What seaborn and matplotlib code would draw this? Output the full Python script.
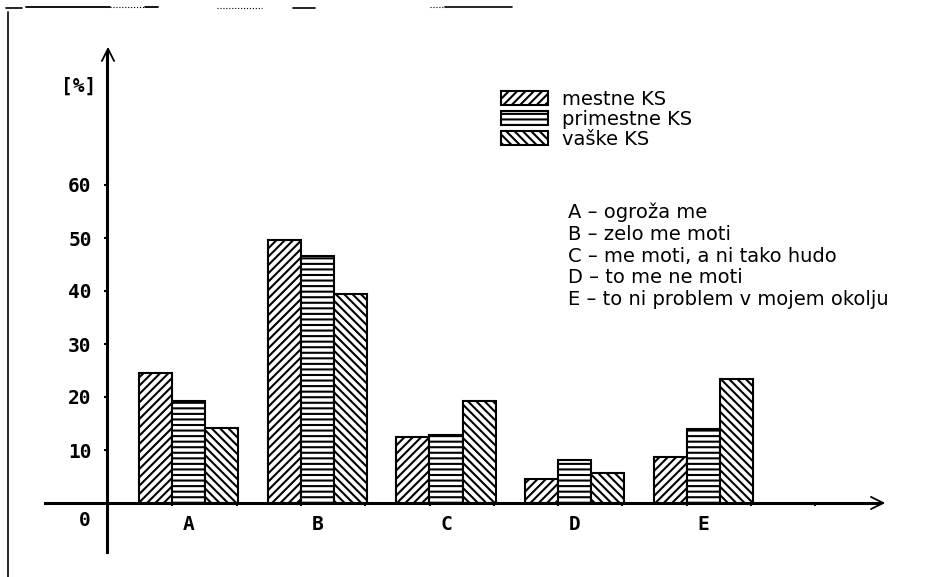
import matplotlib
matplotlib.use("Agg")
import matplotlib.pyplot as plt
from matplotlib.patches import Patch
from matplotlib.lines import Line2D
import seaborn as sns
import pandas as pd

# ---- data ----
categories = ["A", "B", "C", "D", "E"]
series = ["mestne KS", "primestne KS", "vaške KS"]
mestne = [24.6, 49.6, 12.4, 4.5, 8.6]
primestne = [19.3, 46.6, 12.9, 8.1, 13.9]
vaske = [14.2, 39.4, 19.3, 5.6, 23.4]
y_ticks = [10, 20, 30, 40, 50, 60]
explanations = [
    "A – ogroža me",
    "B – zelo me moti",
    "C – me moti, a ni tako hudo",
    "D – to me ne moti",
    "E – to ni problem v mojem okolju",
]
hatches = ["////", "---", "\\\\\\\\"]

df = pd.DataFrame({
    "cat": categories * 3,
    "val": mestne + primestne + vaske,
    "series": [series[0]] * 5 + [series[1]] * 5 + [series[2]] * 5,
})

sns.set_style("white")
plt.rcParams["hatch.linewidth"] = 1.5
plt.rcParams["font.family"] = ["DejaVu Sans"]
plt.rcParams["text.color"] = "black"

W, H = 953, 577
fig = plt.figure(figsize=(W / 100, H / 100), dpi=100)
ax = fig.add_axes([0, 0, 1, 1])

sns.barplot(data=df, x="cat", y="val", hue="series", hue_order=series,
            order=categories, palette=["white"] * 3, edgecolor="black",
            linewidth=1.5, width=0.77, saturation=1, legend=False, ax=ax)

n = len(categories)
for i, p in enumerate(ax.patches[:3 * n]):
    p.set_hatch(hatches[i // n])

# pixel mapping
x0px, dx = 188.5, 128.75
y0px, dy = 503.0, 5.3
ax.set_xlim(-x0px / dx, (W - x0px) / dx)
ax.set_ylim(-(H - y0px) / dy, y0px / dy)

def xd(px):
    return (px - x0px) / dx

def yd(py):
    return (y0px - py) / dy

# spines / axes
for s in ["top", "right"]:
    ax.spines[s].set_visible(False)
ax.spines["left"].set_position(("data", xd(107)))
ax.spines["left"].set_bounds(yd(552), yd(52))
ax.spines["left"].set_linewidth(2.2)
ax.spines["bottom"].set_position(("data", 0))
ax.spines["bottom"].set_bounds(xd(45), xd(880))
ax.spines["bottom"].set_linewidth(2.2)
for s in ["left", "bottom"]:
    ax.spines[s].set_color("black")

ax.annotate("", xy=(xd(108), yd(44)), xytext=(xd(108), yd(70)),
            arrowprops=dict(arrowstyle="->", lw=1.3, color="black",
                            mutation_scale=22))
ax.annotate("", xy=(xd(888), 0), xytext=(xd(860), 0),
            arrowprops=dict(arrowstyle="->", lw=1.3, color="black",
                            mutation_scale=22))

mono = dict(family="DejaVu Sans Mono", weight="bold", size=14)
ax.set_yticks(y_ticks)
ax.set_yticklabels([str(t) for t in y_ticks], fontdict=mono)
ax.tick_params(axis="y", direction="out", length=2, width=1.5, pad=9,
               left=True, colors="black")
ax.set_xticks(range(n))
ax.set_xticklabels(categories, fontdict=mono)
ax.tick_params(axis="x", which="major", length=0, pad=9, bottom=True,
               colors="black")
ax.set_xticks([xd(172.3 + 64.3 * k) for k in range(11)], minor=True)
ax.tick_params(axis="x", which="minor", direction="out", length=2,
               width=1.5, bottom=True, color="black")
ax.set_xlabel("")
ax.set_ylabel("")
ax.grid(False)

fig.text(85 / W, 1 - 520 / H, "0", ha="center", va="center", **mono)
fig.text(79 / W, 1 - 86 / H, "[%]", ha="center", va="center", **mono)

# legend
handles = [Patch(facecolor="white", edgecolor="black", hatch=h, linewidth=1.5)
           for h in hatches]
fig.legend(handles, series, loc="upper left",
           bbox_to_anchor=(501 / W, 1 - 90 / H), frameon=False,
           prop=dict(family="DejaVu Sans", size=14),
           handlelength=2.4, handleheight=0.75, handletextpad=0.75,
           labelspacing=0.05, borderpad=0, borderaxespad=0)

# explanation block
fig.text(568 / W, 1 - 203 / H, "\n".join(explanations), ha="left", va="top",
         family="DejaVu Sans", size=14, linespacing=1.17)

# scan border decorations
def fline(x1, y1, x2, y2, lw=1.2, ls="-"):
    fig.add_artist(Line2D([x1 / W, x2 / W], [1 - y1 / H, 1 - y2 / H],
                          transform=fig.transFigure, color="black", lw=lw,
                          ls=ls))

fline(8, 12, 8, 577, lw=1.2)
fline(6, 8, 22, 8)
fline(26, 7, 110, 7, lw=1.3)
fline(110, 7, 145, 7, lw=0.8, ls=":")
fline(145, 7, 158, 7, lw=1.3)
fline(217, 8, 262, 8, lw=0.8, ls=":")
fline(293, 8, 315, 8, lw=1.2)
fline(430, 7, 445, 7, lw=0.8, ls=":")
fline(445, 7, 512, 7, lw=1.2)

fig.savefig("out.png", dpi=100)
